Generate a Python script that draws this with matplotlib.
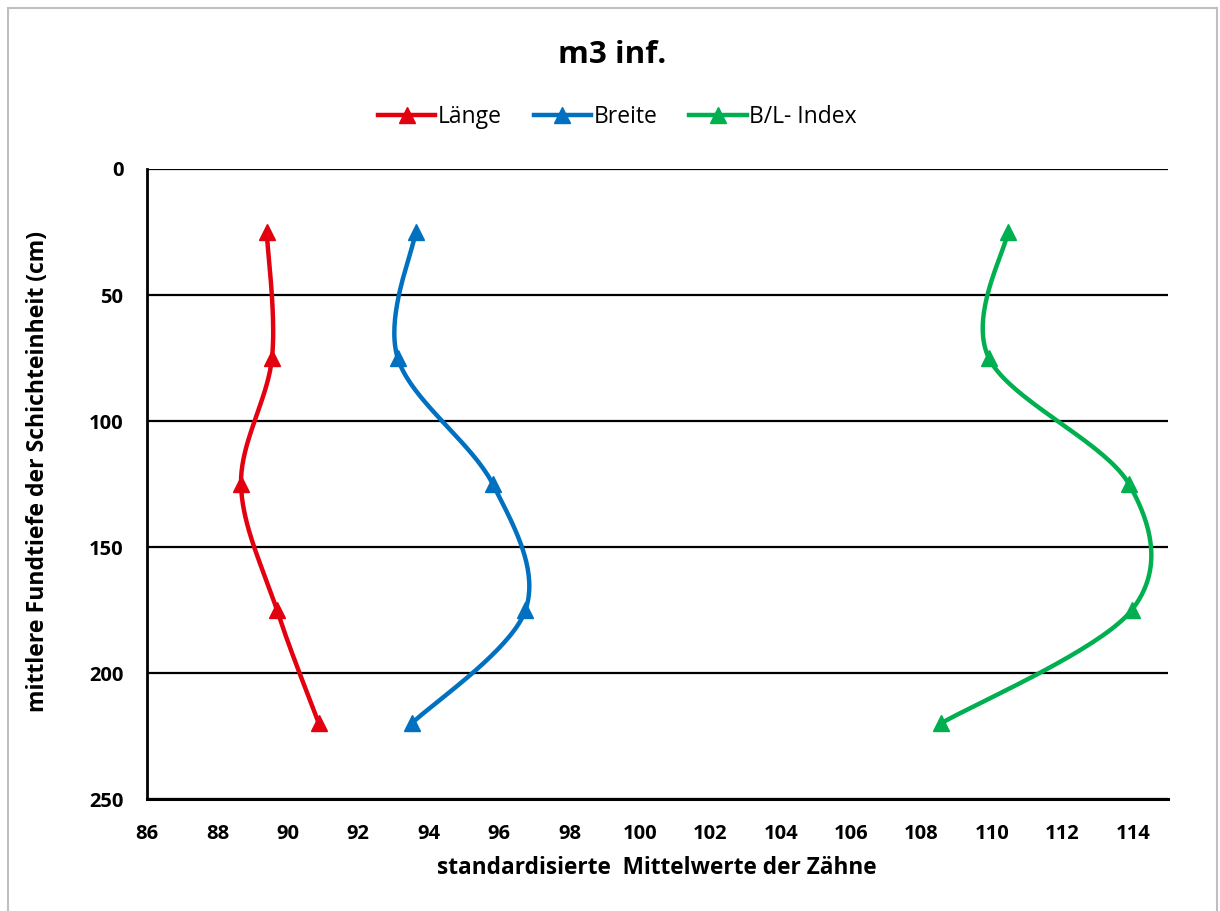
import numpy as np
import matplotlib
matplotlib.use("Agg")
import matplotlib.pyplot as plt
from matplotlib.patches import Rectangle
from matplotlib.lines import Line2D

plt.rcParams['font.family'] = ['Open Sans', 'DejaVu Sans']

# depth of the layer unit (cm) and standardised means per series
depth = [25, 75, 125, 175, 220]
laenge = [89.4, 89.55, 88.67, 89.69, 90.88]
breite = [93.63, 93.12, 95.82, 96.75, 93.52]
bl_index = [110.45, 109.91, 113.89, 113.97, 108.55]

series = [
    ("Länge", laenge, "#E3000F"),
    ("Breite", breite, "#0070C0"),
    ("B/L- Index", bl_index, "#00B050"),
]

x_ticks = list(range(86, 115, 2))
y_ticks = [0, 50, 100, 150, 200, 250]


def smooth(xs, ys, n=40):
    # Excel-like smoothed line: cubic Bezier through the points
    p = np.column_stack([xs, ys]).astype(float)
    ext = np.vstack([p[0], p, p[-1]])
    t = np.linspace(0, 1, n)[:, None]
    out = []
    for i in range(len(p) - 1):
        p0, p1 = ext[i + 1], ext[i + 2]
        c1 = p0 + (ext[i + 2] - ext[i]) / 6
        c2 = p1 - (ext[i + 3] - ext[i + 1]) / 6
        seg = ((1 - t) ** 3) * p0 + 3 * ((1 - t) ** 2) * t * c1 \
            + 3 * (1 - t) * t ** 2 * c2 + t ** 3 * p1
        out.append(seg if i == 0 else seg[1:])
    out = np.vstack(out)
    return out[:, 0], out[:, 1]


fig = plt.figure(figsize=(12.2, 9.11), dpi=100)
ax = fig.add_axes([0.1205, 0.1229, 0.8369, 0.6916])

for name, vals, col in series:
    sx, sy = smooth(vals, depth)
    ax.plot(sx, sy, color=col, lw=3.2, solid_capstyle='round', zorder=3)
    ax.plot(vals, depth, ls='none', marker='^', ms=12, color=col, zorder=4)

ax.set_xlim(86, 115)
ax.set_ylim(250, 0)
ax.set_xticks(x_ticks)
ax.set_yticks(y_ticks)
ax.tick_params(length=0, labelsize=14.5)
ax.tick_params(axis='x', pad=18)
ax.tick_params(axis='y', pad=17)
for lab in ax.get_xticklabels() + ax.get_yticklabels():
    lab.set_fontweight('bold')

for s in ['top', 'right']:
    ax.spines[s].set_visible(False)
ax.spines['left'].set_linewidth(2)
ax.spines['bottom'].set_linewidth(2.2)
ax.yaxis.grid(True, color='black', lw=1.6)
ax.set_axisbelow(True)

fig.text(0.5385, 0.047, "standardisierte  Mittelwerte der Zähne", ha='center',
         va='center', fontsize=16.3, fontweight='bold')
fig.text(0.031, 0.482, "mittlere Fundtiefe der Schichteinheit (cm)", ha='center',
         va='center', rotation=90, fontsize=16.6, fontweight='bold')
fig.text(0.502, 0.94, "m3 inf.", ha='center', va='center', fontsize=22.5,
         fontweight='bold')

handles = [Line2D([], [], color=c, lw=3.2, marker='^', ms=12) for _, _, c in series]
fig.legend(handles, [n for n, _, _ in series], loc='center', ncol=3,
           bbox_to_anchor=(0.506, 0.872), frameon=False, fontsize=16.5,
           handlelength=2.5, handletextpad=0.1, columnspacing=1.4)

fig.patches.append(Rectangle((8 / 1220, -0.01), 1209 / 1220, 1 - 8 / 911 + 0.01,
                             transform=fig.transFigure, fill=False,
                             edgecolor='#BFBFBF', lw=1.5))

fig.savefig("out.png", dpi=100, facecolor='white')
